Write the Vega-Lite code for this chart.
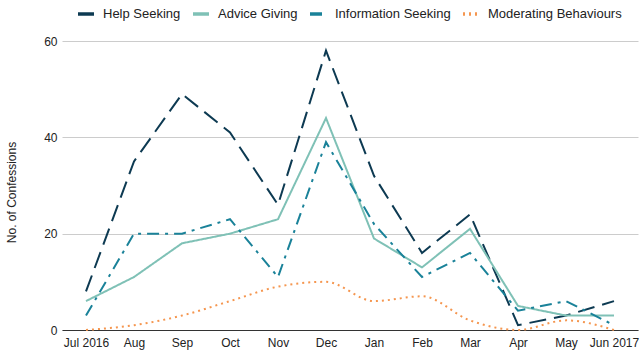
{
  "$schema": "https://vega.github.io/schema/vega-lite/v6.json",
  "width": 576,
  "height": 289,
  "autosize": "none",
  "padding": {"left": 62, "top": 41, "right": 4, "bottom": 21},
  "background": "white",
  "config": {
    "font": "Liberation Sans",
    "view": {"stroke": null},
    "axis": {"labelFont": "Liberation Sans", "titleFont": "Liberation Sans", "labelColor": "#222", "titleColor": "#222"}
  },
  "data": {
    "values": [
      {"month": "Jul 2016", "series": "Help Seeking", "value": 8},
      {"month": "Aug", "series": "Help Seeking", "value": 35},
      {"month": "Sep", "series": "Help Seeking", "value": 49},
      {"month": "Oct", "series": "Help Seeking", "value": 41},
      {"month": "Nov", "series": "Help Seeking", "value": 26},
      {"month": "Dec", "series": "Help Seeking", "value": 58},
      {"month": "Jan", "series": "Help Seeking", "value": 32},
      {"month": "Feb", "series": "Help Seeking", "value": 16},
      {"month": "Mar", "series": "Help Seeking", "value": 24},
      {"month": "Apr", "series": "Help Seeking", "value": 1},
      {"month": "May", "series": "Help Seeking", "value": 3},
      {"month": "Jun 2017", "series": "Help Seeking", "value": 6},
      {"month": "Jul 2016", "series": "Advice Giving", "value": 6},
      {"month": "Aug", "series": "Advice Giving", "value": 11},
      {"month": "Sep", "series": "Advice Giving", "value": 18},
      {"month": "Oct", "series": "Advice Giving", "value": 20},
      {"month": "Nov", "series": "Advice Giving", "value": 23},
      {"month": "Dec", "series": "Advice Giving", "value": 44},
      {"month": "Jan", "series": "Advice Giving", "value": 19},
      {"month": "Feb", "series": "Advice Giving", "value": 13},
      {"month": "Mar", "series": "Advice Giving", "value": 21},
      {"month": "Apr", "series": "Advice Giving", "value": 5},
      {"month": "May", "series": "Advice Giving", "value": 3},
      {"month": "Jun 2017", "series": "Advice Giving", "value": 3},
      {"month": "Jul 2016", "series": "Information Seeking", "value": 3},
      {"month": "Aug", "series": "Information Seeking", "value": 20},
      {"month": "Sep", "series": "Information Seeking", "value": 20},
      {"month": "Oct", "series": "Information Seeking", "value": 23},
      {"month": "Nov", "series": "Information Seeking", "value": 11},
      {"month": "Dec", "series": "Information Seeking", "value": 39},
      {"month": "Jan", "series": "Information Seeking", "value": 22},
      {"month": "Feb", "series": "Information Seeking", "value": 11},
      {"month": "Mar", "series": "Information Seeking", "value": 16},
      {"month": "Apr", "series": "Information Seeking", "value": 4},
      {"month": "May", "series": "Information Seeking", "value": 6},
      {"month": "Jun 2017", "series": "Information Seeking", "value": 1},
      {"month": "Jul 2016", "series": "Moderating Behaviours", "value": 0},
      {"month": "Aug", "series": "Moderating Behaviours", "value": 1},
      {"month": "Sep", "series": "Moderating Behaviours", "value": 3},
      {"month": "Oct", "series": "Moderating Behaviours", "value": 6},
      {"month": "Nov", "series": "Moderating Behaviours", "value": 9},
      {"month": "Dec", "series": "Moderating Behaviours", "value": 10},
      {"month": "Jan", "series": "Moderating Behaviours", "value": 6},
      {"month": "Feb", "series": "Moderating Behaviours", "value": 7},
      {"month": "Mar", "series": "Moderating Behaviours", "value": 2},
      {"month": "Apr", "series": "Moderating Behaviours", "value": 0},
      {"month": "May", "series": "Moderating Behaviours", "value": 2},
      {"month": "Jun 2017", "series": "Moderating Behaviours", "value": 0}
    ]
  },
  "encoding": {
    "x": {
      "field": "month", "type": "ordinal", "sort": null,
      "scale": {"type": "point", "padding": 0.5},
      "axis": {"title": null, "labelAngle": 0, "tickSize": 0, "labelPadding": 7, "labelFontSize": 12, "domainColor": "#333", "domainWidth": 1, "grid": false}
    },
    "y": {
      "field": "value", "type": "quantitative",
      "scale": {"domain": [0, 60], "nice": false},
      "axis": {"title": "No. of Confessions", "titleFontSize": 12, "titleFontWeight": "normal", "titlePadding": 25, "titleY": 151, "values": [0, 20, 40, 60], "tickSize": 0, "labelPadding": 5, "labelFontSize": 12, "domain": false, "gridColor": "#cccccc"}
    },
    "color": {
      "field": "series", "type": "nominal",
      "scale": {"domain": ["Help Seeking", "Advice Giving", "Information Seeking", "Moderating Behaviours"], "range": ["#0d3a52", "#7fc1b6", "#1a8299", "#f5964f"]},
      "legend": {"title": null, "orient": "none", "legendX": 14, "legendY": -37, "direction": "horizontal", "symbolType": "stroke", "symbolStrokeWidth": 3.5, "symbolSize": 256, "labelOffset": 7, "labelFontSize": 13, "labelColor": "#222", "columnPadding": 5, "labelFont": "Liberation Sans"}
    },
    "strokeDash": {
      "field": "series", "type": "nominal",
      "scale": {"domain": ["Help Seeking", "Advice Giving", "Information Seeking", "Moderating Behaviours"], "range": [[17, 8], [1, 0], [12, 6, 3, 6], [2, 4]]},
      "legend": {"title": null}
    }
  },
  "layer": [
    {
      "transform": [{"filter": "datum.series !== 'Moderating Behaviours'"}],
      "mark": {"type": "line", "strokeWidth": 2}
    },
    {
      "transform": [{"filter": "datum.series === 'Moderating Behaviours'"}],
      "mark": {"type": "line", "strokeWidth": 2, "interpolate": "monotone"}
    }
  ]
}
